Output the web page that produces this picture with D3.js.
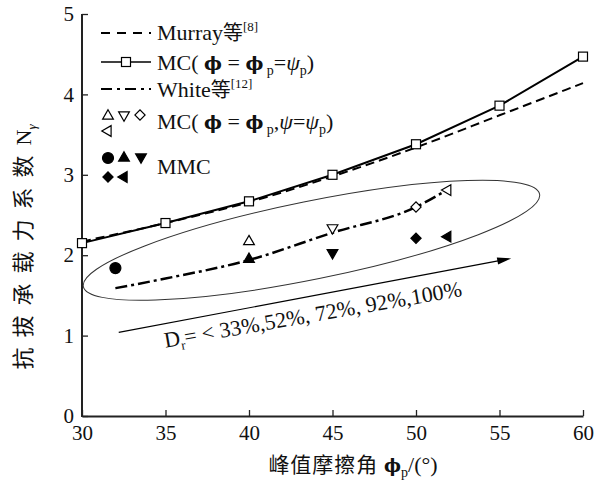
<!DOCTYPE html>
<html><head><meta charset="utf-8">
<script src="https://cdn.jsdelivr.net/npm/d3@7"></script>
<style>
body{margin:0;background:#fff;}
svg{display:block;font-family:"Liberation Serif","Noto Sans CJK SC",serif;}
.phi{font-family:"DejaVu Serif";font-weight:bold;}
</style></head>
<body><svg id="c" width="606" height="484"></svg>
<script>
// ---- data ----
const xTicks = [30, 35, 40, 45, 50, 55, 60];
const yTicks = [0, 1, 2, 3, 4, 5];
const mcX = [30, 35, 40, 45, 50, 55, 60];
const mcY = [2.15, 2.40, 2.67, 3.00, 3.38, 3.86, 4.47];
const murrayX = [30, 35, 40, 45, 50, 55, 60];
const murrayY = [2.17, 2.40, 2.66, 2.98, 3.34, 3.74, 4.14];
const whiteX = [32, 35, 40, 45, 50, 52];
const whiteY = [1.59, 1.71, 1.94, 2.28, 2.60, 2.83];
const openX = [40, 45, 50, 51.9];
const openY = [2.17, 2.34, 2.60, 2.81];
const openShape = ["up", "down", "diamond", "left"];
const mmcX = [32, 40, 45, 50, 51.9];
const mmcY = [1.84, 1.95, 2.03, 2.21, 2.23];
const mmcShape = ["circle", "up", "down", "diamond", "left"];
const ellipseTips = [[30.08, 1.61], [57.4, 2.76]];
const arrowEnds = [[32.2, 1.04], [55.7, 1.96]];
const drLabelAt = [35.0, 0.85];

// ---- layout ----
const W = 606, H = 484;
const m = {l: 82, r: 23, t: 14, b: 68};
const svg = d3.select("#c");
const x = d3.scaleLinear().domain([30, 60]).range([m.l, W - m.r]);
const y = d3.scaleLinear().domain([0, 5]).range([H - m.b, m.t]);
const PHI = "\u03D5", PSI = "\u03C8";

function symPath(shape) {
  const t = {up: d3.symbolTriangle, down: d3.symbolTriangle, left: d3.symbolTriangle,
             diamond: d3.symbolSquare, circle: d3.symbolCircle}[shape];
  const size = shape === "circle" ? 95 : shape === "diamond" ? 52 : 50;
  return d3.symbol(t, size)();
}
function symRot(shape) {
  return {up: 0, down: 180, left: -90, diamond: 45, circle: 0}[shape];
}
function drawSym(g, px, py, shape, filled) {
  g.append("path").attr("d", symPath(shape))
    .attr("transform", `translate(${px},${py}) rotate(${symRot(shape)})`)
    .attr("fill", filled ? "#000" : "#fff")
    .attr("stroke", "#000").attr("stroke-width", 1.2);
}

// ---- axes ----
const xAxis = d3.axisBottom(x).tickValues(xTicks).tickFormat(d3.format("d"))
  .tickSize(-6).tickPadding(9).tickSizeOuter(0);
const yAxis = d3.axisLeft(y).tickValues(yTicks).tickFormat(d3.format("d"))
  .tickSize(-6).tickPadding(8).tickSizeOuter(0);
const gx = svg.append("g").attr("transform", `translate(0,${H - m.b})`).call(xAxis);
const gy = svg.append("g").attr("transform", `translate(${m.l},0)`).call(yAxis);
[gx, gy].forEach(g => {
  g.select(".domain").attr("stroke", "#222").attr("stroke-width", 2);
  g.selectAll(".tick line").attr("stroke", "#222").attr("stroke-width", 1.3);
  g.selectAll(".tick text").attr("font-size", 21).attr("fill", "#111")
    .attr("font-family", "Liberation Serif");
});
gx.selectAll(".tick text").attr("dy", "0.71em");
gy.select(".domain").attr("d", `M0,${y(0) + 1}V${y(5)}`);

// axis titles
const xt = svg.append("text").attr("x", 353).attr("y", 472).attr("text-anchor", "middle")
  .attr("font-size", 22).attr("fill", "#111");
xt.append("tspan").attr("font-family", "Noto Sans CJK SC").attr("font-size", 21)
  .attr("letter-spacing", 1).text("峰值摩擦角 ");
xt.append("tspan").attr("class", "phi").attr("font-size", 18).text(PHI);
xt.append("tspan").attr("font-size", 14).attr("dy", 5).text("p");
xt.append("tspan").attr("dy", -5).text("/(°)");

const yt = svg.append("text").attr("transform", "translate(31,247) rotate(-90)")
  .attr("text-anchor", "middle").attr("font-size", 22).attr("fill", "#111");
yt.append("tspan").attr("font-family", "Noto Sans CJK SC").attr("font-size", 22)
  .attr("letter-spacing", 10).text("抗拔承载力系数");
yt.append("tspan").text("N");
yt.append("tspan").attr("font-size", 13).attr("font-style", "italic").attr("dy", 5).text("γ");

// ---- series ----
const plot = svg.append("g");
const lineGen = d3.line().x(d => x(d[0])).y(d => y(d[1]));
const smooth = d3.line().x(d => x(d[0])).y(d => y(d[1])).curve(d3.curveMonotoneX);

plot.append("path").datum(murrayX.map((v, i) => [v, murrayY[i]]))
  .attr("d", smooth).attr("fill", "none").attr("stroke", "#000")
  .attr("stroke-width", 2).attr("stroke-dasharray", "9,5");
plot.append("path").datum(mcX.map((v, i) => [v, mcY[i]]))
  .attr("d", lineGen).attr("fill", "none").attr("stroke", "#000").attr("stroke-width", 2);
plot.append("path").datum(whiteX.map((v, i) => [v, whiteY[i]]))
  .attr("d", smooth).attr("fill", "none").attr("stroke", "#000")
  .attr("stroke-width", 2.5).attr("stroke-dasharray", "12,4,3,4");

mcX.forEach((v, i) => {
  plot.append("rect").attr("x", x(v) - 4.5).attr("y", y(mcY[i]) - 4.5)
    .attr("width", 9).attr("height", 9).attr("fill", "#fff")
    .attr("stroke", "#000").attr("stroke-width", 1.2);
});
openX.forEach((v, i) => drawSym(plot, x(v), y(openY[i]), openShape[i], false));
mmcX.forEach((v, i) => drawSym(plot, x(v), y(mmcY[i]), mmcShape[i], true));

// ---- ellipse annotation ----
(function () {
  const p1 = [x(ellipseTips[0][0]), y(ellipseTips[0][1])];
  const p2 = [x(ellipseTips[1][0]), y(ellipseTips[1][1])];
  const cx = (p1[0] + p2[0]) / 2, cy = (p1[1] + p2[1]) / 2;
  const rx = Math.hypot(p2[0] - p1[0], p2[1] - p1[1]) / 2;
  const ang = Math.atan2(p2[1] - p1[1], p2[0] - p1[0]) * 180 / Math.PI;
  plot.append("ellipse").attr("cx", 0).attr("cy", 0).attr("rx", rx).attr("ry", 39)
    .attr("transform", `translate(${cx},${cy}) rotate(${ang})`)
    .attr("fill", "none").attr("stroke", "#333").attr("stroke-width", 1);
})();

// ---- arrow & Dr label ----
const a0 = [x(arrowEnds[0][0]), y(arrowEnds[0][1])];
const a1 = [x(arrowEnds[1][0]), y(arrowEnds[1][1])];
const aAng = Math.atan2(a1[1] - a0[1], a1[0] - a0[0]) * 180 / Math.PI;
plot.append("line").attr("x1", a0[0]).attr("y1", a0[1])
  .attr("x2", a1[0] - 8 * Math.cos(aAng * Math.PI / 180))
  .attr("y2", a1[1] - 8 * Math.sin(aAng * Math.PI / 180))
  .attr("stroke", "#000").attr("stroke-width", 1.1);
plot.append("path").attr("d", "M0,0L-14,-3.5L-14,3.5Z")
  .attr("transform", `translate(${a1[0]},${a1[1]}) rotate(${aAng})`).attr("fill", "#000");

const dr = svg.append("text")
  .attr("transform", `translate(${x(drLabelAt[0])},${y(drLabelAt[1])}) rotate(${aAng + 0.8})`)
  .attr("font-size", 22).attr("fill", "#111");
dr.append("tspan").text("D");
dr.append("tspan").attr("font-size", 13).attr("dy", 5).text("r");
dr.append("tspan").attr("dy", -5).text("= < 33%,52%, 72%, 92%,100%");

// ---- legend ----
const lg = svg.append("g");
const lx0 = 101, lx1 = 151, tx = 157;
lg.append("line").attr("x1", lx0).attr("x2", lx1).attr("y1", 33).attr("y2", 33)
  .attr("stroke", "#000").attr("stroke-width", 2).attr("stroke-dasharray", "9,7");
lg.append("line").attr("x1", lx0).attr("x2", lx1).attr("y1", 62).attr("y2", 62)
  .attr("stroke", "#000").attr("stroke-width", 1.6);
lg.append("rect").attr("x", 126 - 4.5).attr("y", 62 - 4.5).attr("width", 9).attr("height", 9)
  .attr("fill", "#fff").attr("stroke", "#000").attr("stroke-width", 1.2);
lg.append("line").attr("x1", lx0).attr("x2", lx1).attr("y1", 89).attr("y2", 89)
  .attr("stroke", "#000").attr("stroke-width", 2.2).attr("stroke-dasharray", "11,5,3,5");

drawSym(lg, 108, 116, "up", false);
drawSym(lg, 124, 115, "down", false);
drawSym(lg, 140, 115, "diamond", false);
drawSym(lg, 108, 131, "left", false);
drawSym(lg, 108, 158, "circle", true);
drawSym(lg, 124, 158, "up", true);
drawSym(lg, 141, 157, "down", true);
drawSym(lg, 108, 177, "diamond", true);
drawSym(lg, 124, 177, "left", true);

const lt = (yy) => lg.append("text").attr("x", tx).attr("y", yy).attr("font-size", 22).attr("fill", "#111");
function phiText(t, punct) {
  t.append("tspan").text("MC( ");
  t.append("tspan").attr("class", "phi").attr("font-size", 19).text(PHI);
  t.append("tspan").text(" = ");
  t.append("tspan").attr("class", "phi").attr("font-size", 19).text(PHI);
  t.append("tspan").attr("font-size", 14).attr("dy", 5).text(" p");
  t.append("tspan").attr("dy", -5).text(punct);
}
let t1 = lt(40);
t1.append("tspan").text("Murray");
t1.append("tspan").attr("font-family", "Noto Sans CJK SC").attr("font-size", 20).text("等");
t1.append("tspan").attr("font-size", 13).attr("dy", -9).text("[8]");
let t2 = lt(70);
phiText(t2, "=");
t2.append("tspan").attr("font-style", "italic").text(PSI);
t2.append("tspan").attr("font-size", 14).attr("dy", 5).text("p");
t2.append("tspan").attr("dy", -5).text(")");
let t3 = lt(97);
t3.append("tspan").text("White");
t3.append("tspan").attr("font-family", "Noto Sans CJK SC").attr("font-size", 20).text("等");
t3.append("tspan").attr("font-size", 13).attr("dy", -9).text("[12]");
let t4 = lt(129);
phiText(t4, ",");
t4.append("tspan").attr("font-style", "italic").text(PSI);
t4.append("tspan").text("=");
t4.append("tspan").attr("font-style", "italic").text(PSI);
t4.append("tspan").attr("font-size", 14).attr("dy", 5).text("p");
t4.append("tspan").attr("dy", -5).text(")");
let t5 = lt(174);
t5.append("tspan").text("MMC");
</script></body></html>
